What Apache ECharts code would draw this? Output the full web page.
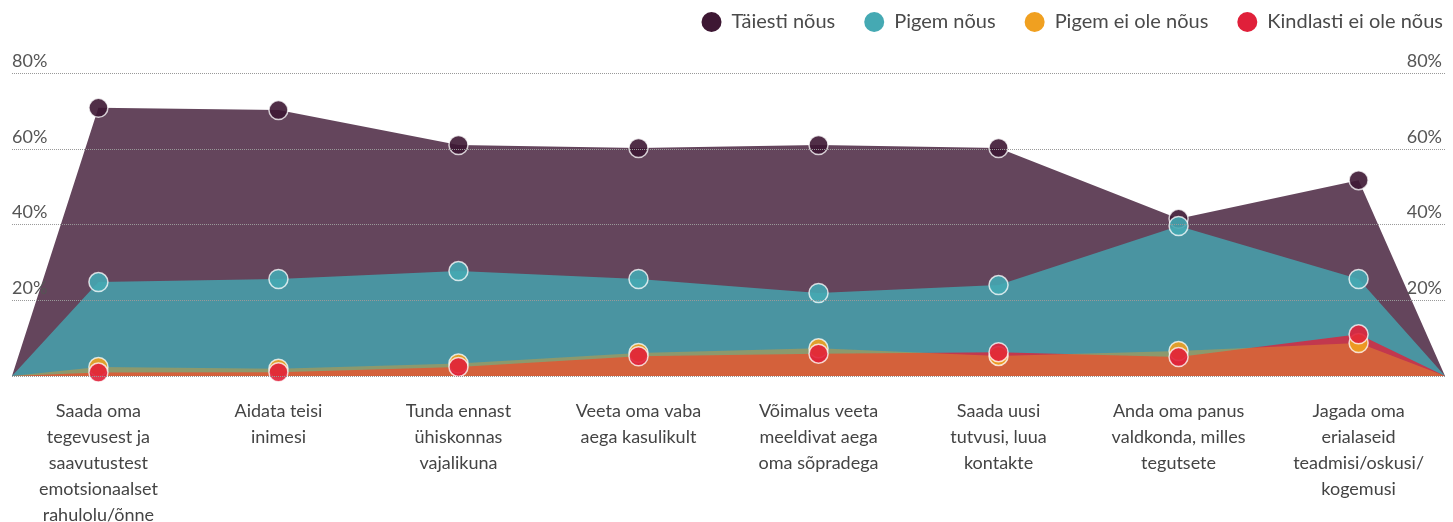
<!DOCTYPE html>
<html>
<head>
<meta charset="utf-8">
<script src="https://cdn.jsdelivr.net/npm/echarts@6/dist/echarts.min.js"></script>
<style>
  html, body { margin: 0; padding: 0; background: #fff; }
  #chart { width: 1453px; height: 522px; }
</style>
</head>
<body>
<div id="chart"></div>
<script>
// kategooriad (x-telg)
var categories = [
  "Saada oma\ntegevusest ja\nsaavutustest\nemotsionaalset\nrahulolu/õnne",
  "Aidata teisi\ninimesi",
  "Tunda ennast\nühiskonnas\nvajalikuna",
  "Veeta oma vaba\naega kasulikult",
  "Võimalus veeta\nmeeldivat aega\noma sõpradega",
  "Saada uusi\ntutvusi, luua\nkontakte",
  "Anda oma panus\nvaldkonda, milles\ntegutsete",
  "Jagada oma\nerialaseid\nteadmisi/oskusi/\nkogemusi"
];

var seriesNames = ["Täiesti nõus", "Pigem nõus", "Pigem ei ole nõus", "Kindlasti ei ole nõus"];

// väärtused protsentides
var taiestiNous = [70.8, 70.2, 61.0, 60.2, 61.0, 60.2, 41.5, 51.7];
var pigemNous = [24.8, 25.6, 27.7, 25.6, 21.9, 24.0, 39.6, 25.6];
var pigemEiOleNous = [2.4, 1.9, 3.3, 6.1, 7.3, 5.3, 6.6, 8.7];
var kindlastiEiOleNous = [0.9, 1.0, 2.4, 5.2, 5.9, 6.3, 5.0, 11.0];

var yTicks = [0, 20, 40, 60, 80];

var colors = ["#3d1733", "#45a9b3", "#f0a020", "#e0203a"];
var areaOpacity = [0.8, 0.8, 0.4, 0.8];

var edgeLeft = -0.48;
var edgeRight = categories.length - 0.52;

// pind algab ja lõpeb nulliga graafiku servades
function areaData(values) {
  var d = [[edgeLeft, 0]];
  values.forEach(function (v, i) { d.push([i, v]); });
  d.push([edgeRight, 0]);
  return d;
}
function pointData(values) {
  return values.map(function (v, i) { return [i, v]; });
}

var allValues = [taiestiNous, pigemNous, pigemEiOleNous, kindlastiEiOleNous];

var chart = echarts.init(document.getElementById("chart"));

var series = [];
// pinnad: punane enne oranži
[0, 1, 3, 2].forEach(function (k) {
  series.push({
    name: seriesNames[k],
    type: "line",
    data: areaData(allValues[k]),
    showSymbol: false,
    symbol: "none",
    lineStyle: { width: 0 },
    itemStyle: { color: colors[k] },
    areaStyle: { color: colors[k], opacity: areaOpacity[k] },
    z: 2,
    silent: true
  });
});
// punktid
[0, 1, 2, 3].forEach(function (k) {
  series.push({
    name: seriesNames[k],
    type: "scatter",
    data: pointData(allValues[k]),
    symbolSize: 19,
    itemStyle: {
      color: colors[k],
      opacity: 0.9,
      borderColor: "rgba(255,255,255,0.85)",
      borderWidth: 1.5
    },
    z: 3
  });
});

var option = {
  animation: false,
  textStyle: { fontFamily: "Lato, 'Open Sans', sans-serif" },
  legend: {
    data: seriesNames,
    icon: "circle",
    itemWidth: 20,
    itemHeight: 20,
    itemGap: 29,
    right: 5,
    top: 7,
    textStyle: { fontSize: 20, color: "#4a4a4a", padding: [0, 0, 0, 5] }
  },
  grid: { left: 12, right: 8, top: 73, bottom: 146, outerBoundsMode: "none" },
  xAxis: {
    type: "value",
    min: edgeLeft,
    max: edgeRight,
    axisLine: { show: false },
    axisTick: { show: false },
    splitLine: { show: false },
    axisLabel: {
      customValues: categories.map(function (c, i) { return i; }),
      formatter: function (v) { return categories[Math.round(v)] || ""; },
      fontSize: 18,
      lineHeight: 26,
      color: "#444",
      margin: 22,
      align: "center",
      verticalAlign: "top"
    }
  },
  yAxis: [
    {
      type: "value",
      min: yTicks[0],
      max: yTicks[yTicks.length - 1],
      interval: 20,
      position: "left",
      axisLine: { show: false },
      axisTick: { show: false },
      splitLine: { lineStyle: { type: "dotted", color: "#999", width: 1 } },
      axisLabel: {
        inside: true,
        margin: 0,
        align: "left",
        verticalAlign: "bottom",
        padding: [0, 0, 3, 0],
        fontSize: 18,
        color: "#555",
        formatter: function (v) { return v === 0 ? "" : v + "%"; }
      },
      z: 4
    },
    {
      type: "value",
      min: yTicks[0],
      max: yTicks[yTicks.length - 1],
      interval: 20,
      position: "right",
      axisLine: { show: false },
      axisTick: { show: false },
      splitLine: { show: false },
      axisLabel: {
        inside: true,
        margin: 3,
        align: "right",
        verticalAlign: "bottom",
        padding: [0, 0, 3, 0],
        fontSize: 18,
        color: "#555",
        formatter: function (v) { return v === 0 ? "" : v + "%"; }
      },
      z: 4
    }
  ],
  series: series
};

chart.setOption(option);
</script>
</body>
</html>
